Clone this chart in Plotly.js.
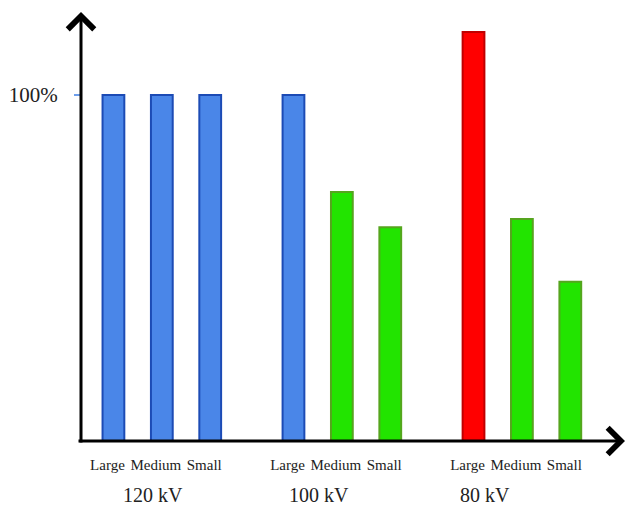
<!DOCTYPE html>
<html>
<head>
<meta charset="utf-8">
<script src="https://cdn.plot.ly/plotly-3.0.1.min.js"></script>
<style>html,body{margin:0;padding:0;background:#fff;}#chart{width:628px;height:506px;}</style>
</head>
<body>
<div id="chart"></div>
<script>
// Data
const groups = ['120 kV', '100 kV', '80 kV'];
const sizes = ['Large', 'Medium', 'Small'];
const values = [
  [100, 100, 100],   // 120 kV
  [100, 72, 61.8],   // 100 kV
  [118.2, 64.2, 46]  // 80 kV
];
// colour class per bar: 'ref' = blue, 'low' = green, 'high' = red
const classes = [
  ['ref', 'ref', 'ref'],
  ['ref', 'low', 'low'],
  ['high', 'low', 'low']
];

const fillColors = {ref: '#4a86e8', low: '#22e400', high: '#ff0000'};
const lineColors = {ref: '#1c4bb5', low: '#55a51e', high: '#c00000'};

const groupStep = 3.72;
const xs = [], ys = [], fills = [], lines = [], tickText = [];
groups.forEach((g, gi) => {
  sizes.forEach((s, si) => {
    xs.push(gi * groupStep + si);
    ys.push(values[gi][si]);
    fills.push(fillColors[classes[gi][si]]);
    lines.push(lineColors[classes[gi][si]]);
    tickText.push(s);
  });
});

const trace = {
  type: 'bar',
  x: xs,
  y: ys,
  width: 0.45,
  marker: {color: fills, line: {color: lines, width: 2}},
  hoverinfo: 'x+y'
};

const serif = '"Liberation Serif", "Times New Roman", serif';
const groupLabelOffsets = [0.81, 0.53, 0.24];
const annotations = groups.map((g, gi) => ({
  text: g,
  x: gi * groupStep + groupLabelOffsets[gi],
  xref: 'x',
  y: 0, yref: 'paper',
  yshift: -54,
  yanchor: 'middle',
  xanchor: 'center',
  showarrow: false,
  font: {family: serif, size: 20, color: '#222'}
}));

// axis arrows
annotations.push({
  x: 0, y: 1, xref: 'paper', yref: 'paper',
  ax: 0, ay: 432, axref: 'pixel', ayref: 'pixel',
  showarrow: true, arrowhead: 4, arrowsize: 1.7, arrowwidth: 3, arrowcolor: '#000', text: ''
});
annotations.push({
  x: 1, y: 0, xref: 'paper', yref: 'paper',
  ax: -548, ay: 0, axref: 'pixel', ayref: 'pixel',
  showarrow: true, arrowhead: 4, arrowsize: 1.7, arrowwidth: 3, arrowcolor: '#000', text: ''
});

const layout = {
  width: 628, height: 506,
  margin: {l: 81, r: 3, t: 12, b: 65},
  paper_bgcolor: '#fff', plot_bgcolor: '#fff',
  showlegend: false,
  bargap: 0,
  xaxis: {
    range: [-0.67, 10.57],
    tickvals: xs,
    ticktext: tickText,
    ticks: '',
    showgrid: false, zeroline: false, showline: false,
    ticklabelstandoff: 13,
    ticklabelshift: -6,
    tickfont: {family: serif, size: 15, color: '#222'},
    fixedrange: true
  },
  yaxis: {
    range: [0, 124],
    tickvals: [100],
    ticktext: ['100%'],
    ticks: 'outside', ticklen: 6, tickwidth: 1.5, tickcolor: '#6d9eeb',
    showgrid: false, zeroline: false, showline: false,
    ticklabelstandoff: 12,
    tickfont: {family: serif, size: 21, color: '#222'},
    fixedrange: true
  },
  annotations: annotations
};

Plotly.newPlot('chart', [trace], layout, {displayModeBar: false, staticPlot: true});
</script>
</body>
</html>
